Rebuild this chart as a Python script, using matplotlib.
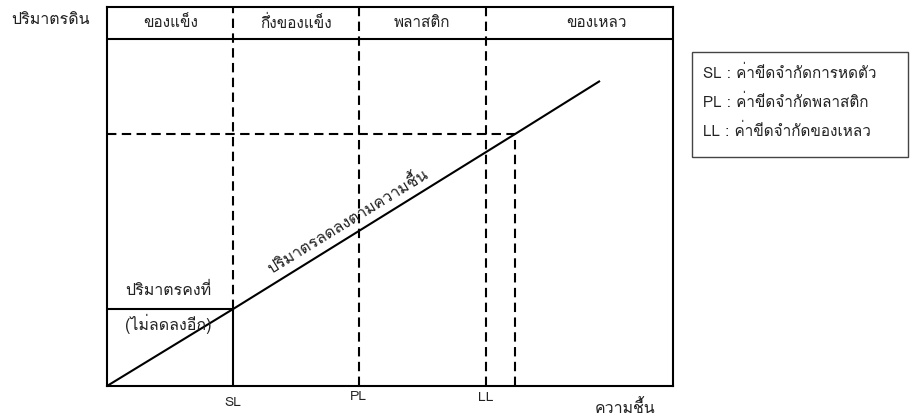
import matplotlib
matplotlib.use("Agg")
import matplotlib.pyplot as plt

plt.rcParams["font.family"] = ["Loma", "Noto Sans Thai", "DejaVu Sans"]

# moisture content (x) and soil volume (y), axis units 0..100
limit_names = ["SL", "PL", "LL"]
limit_x = [22.3, 44.5, 66.9]
state_names = ["ของแข็ง", "กึ่งของแข็ง", "พลาสติก", "ของเหลว"]
state_x = [11.2, 33.4, 55.7, 86.4]
curve_x = [0, 22.3, 72.1, 87.1]
curve_y = [0, 22.2, 72.6, 87.9]
legend_lines = ["SL : ค่าขีดจำกัดการหดตัว",
                "PL : ค่าขีดจำกัดพลาสติก",
                "LL : ค่าขีดจำกัดของเหลว"]

fig = plt.figure(figsize=(9.1, 4.16), dpi=100)
ax = fig.add_axes([107/910, 30/416, 566/910, 379/416])
ax.set_xlim(0, 100)
ax.set_ylim(0, 109.2)
ax.set_xticks([])
ax.set_yticks([])
for s in ax.spines.values():
    s.set_linewidth(1.5)
    s.set_color("black")

txt = "#222222"
dash = dict(color="black", lw=1.5, linestyle=(0, (4.5, 2.6)))

# header band
ax.axhline(100, color="black", lw=1.5)
for name, x in zip(state_names, state_x):
    ax.text(x, 104.6, name, ha="center", va="center", fontsize=11, color=txt)

# shrinkage limit: solid below the curve, dashed above
ax.plot([limit_x[0], limit_x[0]], [0, curve_y[1]], color="black", lw=1.5)
ax.plot([0, limit_x[0]], [curve_y[1], curve_y[1]], color="black", lw=1.5)
ax.plot([limit_x[0], limit_x[0]], [curve_y[1], 109.2], **dash)
for x in limit_x[1:]:
    ax.plot([x, x], [0, 109.2], **dash)
ax.plot([0, curve_x[2]], [curve_y[2], curve_y[2]], **dash)
ax.plot([curve_x[2], curve_x[2]], [0, curve_y[2]], **dash)

ax.plot(curve_x, curve_y, color="black", lw=1.5, solid_capstyle="butt")

for name, x, dy in zip(limit_names, limit_x, [-4.8, -3.2, -3.4]):
    ax.text(x, dy, name, ha="center", va="center", fontsize=10, color=txt,
            clip_on=False)

ax.text(3.2, 27.5, "ปริมาตรคงที่", ha="left", va="center", fontsize=11.5, color=txt)
ax.text(3.2, 18.0, "(ไม่ลดลงอีก)", ha="left", va="center", fontsize=11.5, color=txt)
ax.text(42.6, 47.2, "ปริมาตรลดลงตามความชื้น", ha="center", va="center", fontsize=11.5,
        rotation=31.5, rotation_mode="anchor", color=txt)
ax.text(91.5, -6.6, "ความชื้น", ha="center", va="center", fontsize=11.5,
        color=txt, clip_on=False)

fig.text(50/910, 1 - 20/416, "ปริมาตรดิน", ha="center", va="center", fontsize=11.5,
         color=txt)

# legend box
fig.patches.append(plt.Rectangle((692/910, 1 - 157/416), 216/910, 105/416,
                                 transform=fig.transFigure, fill=False,
                                 edgecolor="#444444", lw=1.0))
for i, line in enumerate(legend_lines):
    fig.text(703/910, 1 - (73 + 29 * i)/416, line, ha="left", va="center",
             fontsize=11, color=txt)

fig.savefig("out.png", dpi=100)
